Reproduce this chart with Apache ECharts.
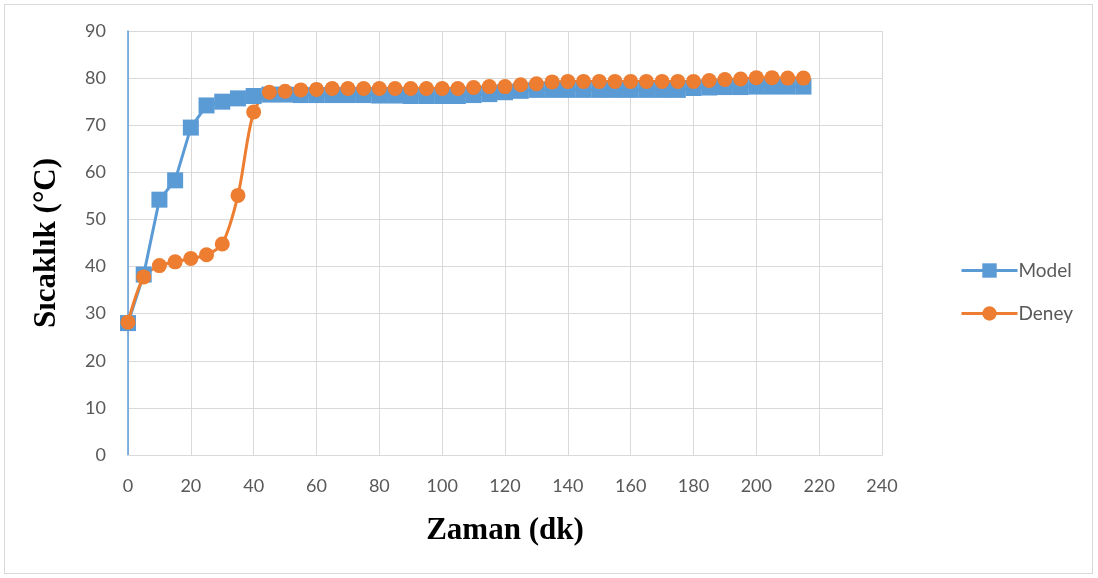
<!DOCTYPE html>
<html>
<head>
<meta charset="utf-8">
<script src="https://cdn.jsdelivr.net/npm/echarts@6/dist/echarts.min.js"></script>
<style>
html,body{margin:0;padding:0;background:#fff;}
#wrap{position:absolute;left:4px;top:4px;width:1089px;height:570px;border:1px solid #D9D9D9;box-sizing:border-box;}
#c{position:absolute;left:0;top:0;width:1098px;height:578px;}
</style>
</head>
<body>
<div id="wrap"></div>
<div id="c"></div>
<script>
const times = [0,5,10,15,20,25,30,35,40,45,50,55,60,65,70,75,80,85,90,95,100,105,110,115,120,125,130,135,140,145,150,155,160,165,170,175,180,185,190,195,200,205,210,215];
const modelValues = [28.0,38.3,54.2,58.3,69.5,74.2,75.0,75.7,76.2,76.5,76.5,76.4,76.4,76.4,76.4,76.4,76.3,76.3,76.2,76.2,76.2,76.2,76.4,76.6,77.0,77.3,77.5,77.5,77.5,77.5,77.5,77.5,77.5,77.5,77.5,77.5,77.9,78.0,78.1,78.1,78.2,78.2,78.2,78.2];
const deneyValues = [28.2,37.8,40.2,41.0,41.7,42.5,44.8,55.1,72.8,77.0,77.2,77.5,77.6,77.8,77.8,77.8,77.8,77.8,77.8,77.8,77.8,77.8,78.0,78.2,78.2,78.6,78.8,79.2,79.3,79.3,79.3,79.3,79.3,79.3,79.3,79.3,79.3,79.5,79.7,79.8,80.1,80.1,80.0,80.0];
const xTicks = {min:0,max:240,interval:20};
const yTicks = {min:0,max:90,interval:10};

const chart = echarts.init(document.getElementById('c'));
const pair = a => times.map((t,i)=>[t,a[i]]);
chart.setOption({
  animation:false,
  grid:{left:128,right:216,top:31,bottom:123,containLabel:false},
  legend:{
    orient:'vertical',left:955,top:256,itemGap:24,itemWidth:56,itemHeight:18,
    lineStyle:{width:3},
    textStyle:{fontFamily:'Lato',fontSize:19,color:'#595959',padding:[0,0,0,-4]},
    data:['Model','Deney']
  },
  xAxis:{
    type:'value',min:xTicks.min,max:xTicks.max,interval:xTicks.interval,
    name:'Zaman (dk)',nameLocation:'middle',nameGap:60,
    nameTextStyle:{fontFamily:'Liberation Serif',fontWeight:'bold',fontSize:31,color:'#000'},
    axisLine:{show:true,lineStyle:{color:'#D9D9D9',width:1}},
    axisTick:{show:false},
    axisLabel:{fontFamily:'Lato',fontSize:18,color:'#595959',margin:22},
    splitLine:{show:true,lineStyle:{color:'#D9D9D9',width:1}}
  },
  yAxis:{
    type:'value',min:yTicks.min,max:yTicks.max,interval:yTicks.interval,
    name:'Sıcaklık (°C)',nameLocation:'middle',nameGap:66,
    nameTextStyle:{fontFamily:'Liberation Serif',fontWeight:'bold',fontSize:31,color:'#000'},
    axisLine:{show:true,lineStyle:{color:'#5B9BD5',width:1.5}},
    axisTick:{show:false},
    axisLabel:{fontFamily:'Lato',fontSize:18,color:'#595959',margin:22},
    splitLine:{show:true,lineStyle:{color:'#D9D9D9',width:1}}
  },
  series:[
    {name:'Model',type:'line',data:pair(modelValues),symbol:'rect',symbolSize:16,
     lineStyle:{color:'#5B9BD5',width:3},itemStyle:{color:'#5B9BD5'}},
    {name:'Deney',type:'line',data:pair(deneyValues),symbol:'circle',symbolSize:15,smooth:0.3,
     lineStyle:{color:'#ED7D31',width:3},itemStyle:{color:'#ED7D31'}}
  ]
});
</script>
</body>
</html>
